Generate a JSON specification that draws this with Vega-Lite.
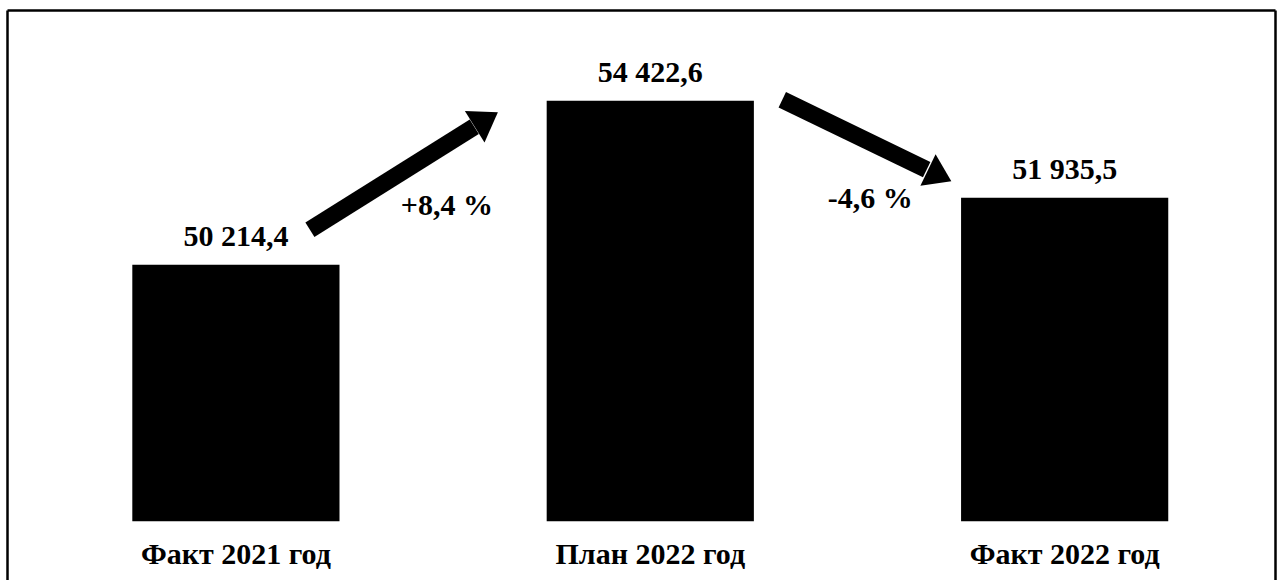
{
  "$schema": "https://vega.github.io/schema/vega-lite/v6.json",
  "width": 1268,
  "height": 570,
  "autosize": {"type": "none"},
  "padding": {"left": 7, "top": 10, "right": 4, "bottom": 0},
  "background": "white",
  "config": {
    "view": {"stroke": null, "fill": "white"},
    "axis": {"domainColor": "black", "domainWidth": 2.5, "labels": false, "ticks": false, "grid": false, "title": null, "offset": 0},
    "text": {"font": "Liberation Serif", "fontWeight": "bold", "fontSize": 30, "color": "black"}
  },
  "datasets": {
    "bars": [
      {"category": "Факт  2021 год", "value": 50214.4, "label": "50 214,4"},
      {"category": "План  2022 год", "value": 54422.6, "label": "54 422,6"},
      {"category": "Факт 2022 год", "value": 51935.5, "label": "51 935,5"}
    ],
    "arrows": [
      {"from": "Факт  2021 год", "to": "План  2022 год", "v1": 50214.4, "v2": 54422.6, "pct": "+8,4 %"},
      {"from": "План  2022 год", "to": "Факт 2022 год", "v1": 54422.6, "v2": 51935.5, "pct": "-4,6 %"}
    ]
  },
  "resolve": {"axis": {"y": "independent"}},
  "layer": [
    {
      "data": {"name": "bars"},
      "mark": {"type": "bar", "color": "black"},
      "encoding": {
        "x": {
          "field": "category", "type": "nominal", "axis": {"orient": "top"},
          "scale": {"type": "band", "domain": ["Факт  2021 год", "План  2022 год", "Факт 2022 год"], "paddingInner": 0.5, "paddingOuter": 0.28, "align": 0.54}
        },
        "y": {"field": "value", "type": "quantitative", "axis": {"orient": "left"}, "scale": {"domain": [42130, 56750], "nice": false, "zero": false}},
        "y2": {"datum": 43640}
      }
    },
    {
      "data": {"name": "bars"},
      "mark": {"type": "text", "baseline": "middle", "dy": -28},
      "encoding": {
        "x": {"field": "category", "type": "nominal"},
        "y": {"field": "value", "type": "quantitative", "axis": {"orient": "right"}},
        "text": {"field": "label"}
      }
    },
    {
      "data": {"name": "bars"},
      "mark": {"type": "text", "baseline": "middle"},
      "encoding": {
        "x": {"field": "category", "type": "nominal"},
        "y": {"datum": 42775, "axis": null},
        "text": {"field": "category"}
      }
    },
    {
      "data": {"name": "arrows"},
      "transform": [{"filter": "datum.pct === '+8,4 %'"}],
      "layer": [
        {
          "mark": {"type": "rule", "color": "black", "strokeWidth": 17, "strokeCap": "butt", "xOffset": 74, "yOffset": -35, "x2Offset": -176, "y2Offset": 26},
          "encoding": {
            "x": {"field": "from", "type": "nominal"},
            "x2": {"field": "to"},
            "y": {"field": "v1", "type": "quantitative", "axis": null},
            "y2": {"field": "v2"}
          }
        },
        {
          "mark": {"type": "point", "shape": "M -0.74 -1 L 0.74 0 L -0.74 1 Z", "size": 1369, "filled": true, "color": "black", "opacity": 1, "strokeWidth": 0, "angle": -32.1, "xOffset": -164, "yOffset": 18.7},
          "encoding": {
            "x": {"field": "to", "type": "nominal"},
            "y": {"field": "v2", "type": "quantitative", "axis": null}
          }
        },
        {
          "mark": {"type": "text", "baseline": "middle", "dx": 211, "dy": -59},
          "encoding": {
            "x": {"field": "from", "type": "nominal"},
            "y": {"field": "v1", "type": "quantitative", "axis": null},
            "text": {"field": "pct"}
          }
        }
      ]
    },
    {
      "data": {"name": "arrows"},
      "transform": [{"filter": "datum.pct === '-4,6 %'"}],
      "layer": [
        {
          "mark": {"type": "rule", "color": "black", "strokeWidth": 17, "strokeCap": "butt", "xOffset": 132, "yOffset": -1, "x2Offset": -138, "y2Offset": -28},
          "encoding": {
            "x": {"field": "from", "type": "nominal"},
            "x2": {"field": "to"},
            "y": {"field": "v1", "type": "quantitative", "axis": null},
            "y2": {"field": "v2"}
          }
        },
        {
          "mark": {"type": "point", "shape": "M -0.74 -1 L 0.74 0 L -0.74 1 Z", "size": 1225, "filled": true, "color": "black", "opacity": 1, "strokeWidth": 0, "angle": 25.7, "xOffset": -125, "yOffset": -22},
          "encoding": {
            "x": {"field": "to", "type": "nominal"},
            "y": {"field": "v2", "type": "quantitative", "axis": null}
          }
        },
        {
          "mark": {"type": "text", "baseline": "middle", "dx": 220, "dy": 98},
          "encoding": {
            "x": {"field": "from", "type": "nominal"},
            "y": {"field": "v1", "type": "quantitative", "axis": null},
            "text": {"field": "pct"}
          }
        }
      ]
    }
  ]
}
